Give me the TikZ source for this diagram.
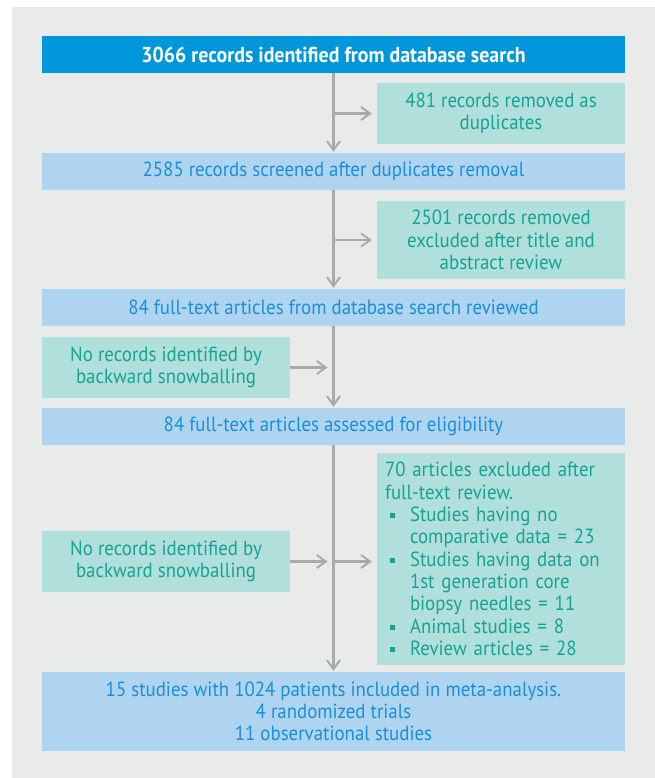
\documentclass[tikz,border=0pt]{standalone}
\usepackage{fontspec}
\setmainfont{PT Sans}[FakeStretch=0.92]
\usetikzlibrary{arrows.meta}
\definecolor{bgc}{HTML}{E9EBEA}
\definecolor{darkblue}{HTML}{0096DA}
\definecolor{lightblue}{HTML}{AED4F0}
\definecolor{tealbox}{HTML}{B1DFDC}
\definecolor{tealtext}{HTML}{16A394}
\definecolor{bluetext}{HTML}{1A8FD8}
\definecolor{arrgray}{HTML}{AAAAAA}
\newcommand{\sqb}{\raisebox{3.5pt}{\rule{5pt}{5pt}}}
\begin{document}
\begin{tikzpicture}[x=1pt,y=-1pt,
  every node/.style={inner sep=0pt, font=\fontsize{20.5}{22.3}\selectfont},
  mainbox/.style={fill=lightblue, text=bluetext, minimum width=583pt, align=center},
  topbox/.style={fill=darkblue, text=white, minimum width=583pt, font=\fontsize{21.6}{22.3}\selectfont\bfseries},
  sidebox/.style={fill=tealbox, text=tealtext, minimum width=248pt, align=center},
  conn/.style={draw=arrgray, line width=2.5pt},
  arr/.style={conn, -{Straight Barb[length=9pt,width=13pt,line width=2pt]}}
]
\useasboundingbox (0,0) rectangle (655,778);
\fill[bgc] (12,7) rectangle (655,778);

\node[topbox, minimum height=37pt] (n1) at (333.5,54.5) {3066 records identified from database search};
\node[sidebox, minimum height=61pt] (dup) at (501,113.5) {481 records removed as\\duplicates};
\node[mainbox, minimum height=37pt] (n2) at (333.5,171.5) {2585 records screened after duplicates removal};
\node[sidebox, minimum height=78pt] (ex1) at (501,240) {2501 records removed\\excluded after title and\\abstract review};
\node[mainbox, minimum height=37pt] (n3) at (333.5,307.5) {84 full-text articles from database search reviewed};
\node[sidebox, minimum height=61pt] (sn1) at (166,367.5) {No records identified by\\backward snowballing};
\node[mainbox, minimum height=37pt] (n4) at (333.5,426.5) {84 full-text articles assessed for eligibility};
\node[sidebox, minimum height=212pt, align=left, text width=232pt] (ex2) at (501,559) {70 articles excluded after\\full-text review.\\
\makebox[25pt][l]{\hspace{5pt}\sqb}Studies having no\\
\hspace*{25pt}comparative data = 23\\
\makebox[25pt][l]{\hspace{5pt}\sqb}Studies having data on\\
\hspace*{25pt}1st generation core\\
\hspace*{25pt}biopsy needles = 11\\
\makebox[25pt][l]{\hspace{5pt}\sqb}Animal studies = 8\\
\makebox[25pt][l]{\hspace{5pt}\sqb}Review articles = 28};
\node[sidebox, minimum height=61pt] (sn2) at (166,561.5) {No records identified by\\backward snowballing};
\node[mainbox, minimum height=79pt] (n5) at (333.5,711.5) {15 studies with 1024 patients included in meta-analysis.\\4 randomized trials\\11 observational studies};

\draw[arr, shorten >=1pt] (n1.south) -- (n2.north);
\draw[arr, shorten >=1pt] (n2.south) -- (n3.north);
\draw[arr, shorten >=1pt] (n3.south) -- (n4.north);
\draw[arr, shorten >=1pt] (n4.south) -- (n5.north);
\draw[arr, shorten >=5pt] (n1.south |- dup.west) -- (dup.west);
\draw[arr, shorten >=5pt] (n2.south |- ex1.west) -- (ex1.west);
\draw[arr, shorten >=5pt] (n4.south |- sn2.east) -- (ex2.west |- sn2.east);
\draw[arr, shorten >=6pt] (sn1.east) -- (sn1.east -| n3.south);
\draw[arr, shorten >=6pt] (sn2.east) -- (sn2.east -| n4.south);
\end{tikzpicture}
\end{document}
